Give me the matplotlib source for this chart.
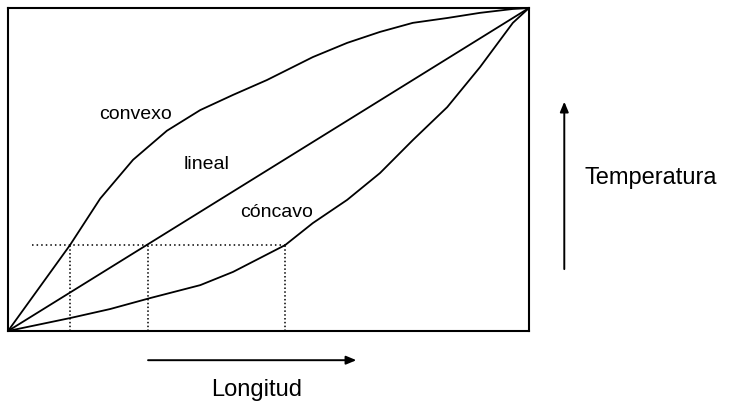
import matplotlib
matplotlib.use('Agg')
import matplotlib.pyplot as plt

plt.rcParams['font.family'] = ['Liberation Sans', 'DejaVu Sans']

# normalised longitude (x) and temperature (y)
convexo_x = [0, 0.119, 0.177, 0.240, 0.305, 0.369, 0.432, 0.497, 0.585,
             0.651, 0.714, 0.777, 0.843, 0.906, 0.969, 1.0]
convexo_y = [0, 0.266, 0.410, 0.530, 0.620, 0.684, 0.731, 0.777, 0.848,
             0.892, 0.926, 0.954, 0.969, 0.985, 0.997, 1.0]

lineal_x = [0, 1.0]
lineal_y = [0, 1.0]

concavo_x = [0, 0.119, 0.196, 0.273, 0.369, 0.432, 0.532, 0.585, 0.651,
             0.714, 0.777, 0.843, 0.906, 0.969, 1.0]
concavo_y = [0, 0.040, 0.068, 0.102, 0.142, 0.183, 0.266, 0.334, 0.406,
             0.489, 0.591, 0.693, 0.817, 0.954, 1.0]

nivel = 0.266                      # dotted temperature level
cortes = [0.119, 0.268, 0.532]     # where each curve reaches it
nivel_inicio = 0.046

fig = plt.figure(figsize=(7.3, 4.07), dpi=100)
ax = fig.add_axes([8 / 730, 76 / 407, 521 / 730, 323 / 407])

for xs, ys in [(convexo_x, convexo_y), (lineal_x, lineal_y), (concavo_x, concavo_y)]:
    ax.plot(xs, ys, color='black', lw=1.3, solid_joinstyle='round')

ax.plot([nivel_inicio, cortes[-1]], [nivel, nivel], color='black', lw=1.1,
        linestyle=(0, (1, 2)))
for c in cortes:
    ax.plot([c, c], [0, nivel], color='black', lw=1.1, linestyle=(0, (1, 1.5)))

ax.text(0.244, 0.669, 'convexo', ha='center', va='center', fontsize=14)
ax.text(0.382, 0.517, 'lineal', ha='center', va='center', fontsize=14)
ax.text(0.516, 0.368, 'cóncavo', ha='center', va='center', fontsize=14)

ax.set_xlim(0, 1)
ax.set_ylim(0, 1)
ax.set_xticks([])
ax.set_yticks([])
for s in ax.spines.values():
    s.set_linewidth(1.5)

fig.text(0.892, 0.563, 'Temperatura', ha='center', va='center', fontsize=17)
fig.text(0.352, 0.042, 'Longitud', ha='center', va='center', fontsize=17)

fig.add_artist(matplotlib.patches.FancyArrowPatch(
    (0.199, 0.115), (0.492, 0.115), transform=fig.transFigure,
    arrowstyle='-|>,head_length=6,head_width=2.5', color='black', lw=1.4))
fig.add_artist(matplotlib.patches.FancyArrowPatch(
    (0.773, 0.332), (0.773, 0.757), transform=fig.transFigure,
    arrowstyle='-|>,head_length=6,head_width=2.5', color='black', lw=1.4))

fig.savefig('out.png', dpi=100)
